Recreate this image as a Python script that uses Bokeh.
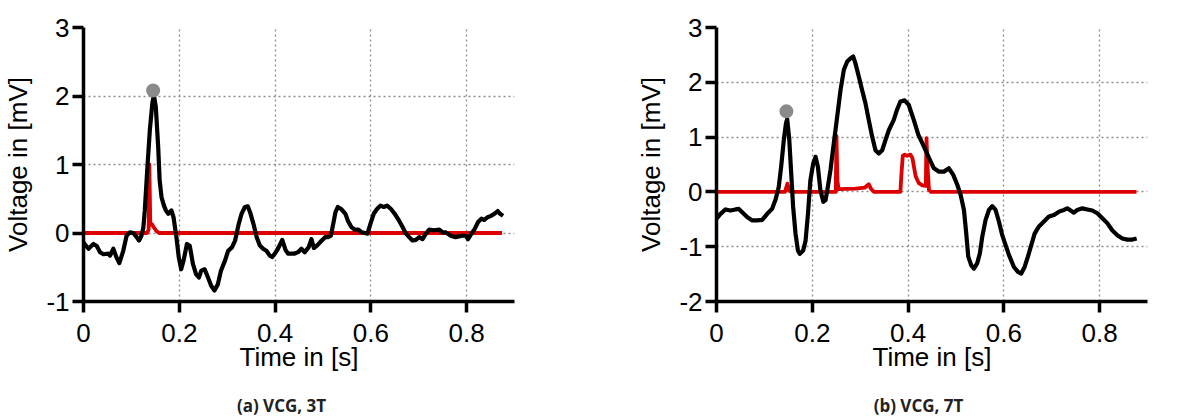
from bokeh.plotting import figure
from bokeh.models import Range1d, FixedTicker
from bokeh.layouts import row, column
from bokeh.core.properties import value
from bokeh.embed import file_html
from bokeh.resources import INLINE

# ---------------- data ----------------
x_ticks = [0, 0.2, 0.4, 0.6, 0.8]
y_ticks_3t = [-1, 0, 1, 2, 3]
y_ticks_7t = [-2, -1, 0, 1, 2, 3]
x_label = "Time in [s]"
y_label = "Voltage in [mV]"
captions = ["(a) VCG, 3T", "(b) VCG, 7T"]

# (time s, voltage mV)
vcg_3t = [(0, -0.14), (.0104, -0.23), (.0208, -0.16), (.0277, -0.19), (.0346, -0.28), (.0416, -0.31),
          (.052, -0.30), (.0554, -0.33), (.0623, -0.23), (.069, -0.36), (.0748, -0.44), (.083, -0.26),
          (.090, -0.04), (.097, 0.01), (.104, 0.0), (.111, -0.06), (.116, -0.11), (.121, -0.04),
          (.125, 0.08), (.128, 0.33), (.133, 0.91), (.1385, 1.50), (.144, 1.91), (.147, 2.01),
          (.151, 1.84), (.156, 1.25), (.159, 0.77), (.163, 0.52), (.168, 0.40), (.172, 0.33),
          (.177, 0.28), (.1835, 0.33), (.188, 0.23), (.194, -0.06), (.199, -0.36), (.204, -0.53),
          (.209, -0.40), (.216, -0.16), (.222, -0.19), (.2285, -0.45), (.235, -0.60), (.241, -0.65),
          (.246, -0.55), (.253, -0.53), (.26, -0.65), (.2666, -0.77), (.2735, -0.84), (.2805, -0.75),
          (.287, -0.55), (.2957, -0.40), (.302, -0.26), (.310, -0.21), (.3166, -0.11), (.324, 0.13),
          (.330, 0.28), (.337, 0.38), (.343, 0.39), (.348, 0.30), (.355, 0.13), (.3615, -0.06),
          (.368, -0.18), (.375, -0.23), (.382, -0.26), (.389, -0.33), (.394, -0.35), (.3996, -0.30),
          (.406, -0.23), (.415, -0.10), (.422, -0.25), (.427, -0.30), (.434, -0.30), (.441, -0.30),
          (.448, -0.28), (.455, -0.23), (.462, -0.28), (.470, -0.21), (.476, -0.09), (.481, -0.22),
          (.488, -0.18), (.496, -0.12), (.505, -0.06), (.511, -0.06), (.5165, -0.04), (.5214, 0.13),
          (.526, 0.30), (.531, 0.38), (.538, 0.35), (.547, 0.28), (.552, 0.18), (.559, 0.09),
          (.566, 0.05), (.574, 0.05), (.5813, 0.01), (.588, 0.0), (.593, -0.01), (.599, 0.13),
          (.606, 0.28), (.613, 0.35), (.620, 0.40), (.627, 0.38), (.634, 0.40), (.642, 0.35),
          (.650, 0.28), (.659, 0.18), (.666, 0.09), (.6734, -0.01), (.680, -0.06), (.687, -0.11),
          (.694, -0.10), (.701, -0.06), (.708, -0.09), (.715, -0.01), (.722, 0.05), (.732, 0.04),
          (.743, 0.05), (.750, 0.01), (.756, 0.01), (.767, -0.04), (.777, -0.06), (.784, -0.05),
          (.791, -0.04), (.798, -0.04), (.803, -0.09), (.810, -0.01), (.817, 0.06), (.824, 0.16),
          (.831, 0.21), (.837, 0.19), (.844, 0.23), (.851, 0.25), (.858, 0.28), (.865, 0.32),
          (.870, 0.28), (.876, 0.25)]

detect_3t = [(0, 0.0), (.133, 0.0), (.136, 0.05), (.1375, 1.0), (.1395, 0.12), (.143, 0.13),
             (.147, 0.08), (.152, 0.03), (.158, 0.0), (.874, 0.0)]

peak_3t = [(0.1454, 2.08)]

vcg_7t = [(0, -0.49), (.0084, -0.40), (.0188, -0.32), (.029, -0.34), (.0397, -0.32), (.0466, -0.31),
          (.0536, -0.37), (.064, -0.46), (.0745, -0.52), (.085, -0.52), (.0954, -0.51), (.106, -0.40),
          (.116, -0.31), (.123, -0.15), (.130, 0.09), (.135, 0.46), (.1406, 0.95), (.145, 1.25),
          (.1476, 1.33), (.152, 0.95), (.156, 0.34), (.160, -0.27), (.165, -0.76), (.170, -1.07),
          (.174, -1.13), (.181, -1.07), (.186, -0.89), (.191, -0.40), (.196, 0.21), (.202, 0.52),
          (.2068, 0.64), (.2117, 0.46), (.217, 0.03), (.223, -0.18), (.2277, -0.15), (.2325, 0.09),
          (.238, 0.40), (.245, 0.89), (.252, 1.37), (.259, 1.86), (.266, 2.23), (.273, 2.38),
          (.280, 2.44), (.2855, 2.47), (.290, 2.35), (.297, 2.11), (.304, 1.86), (.311, 1.62),
          (.318, 1.31), (.325, 1.01), (.332, 0.76), (.339, 0.70), (.346, 0.76), (.353, 0.95),
          (.360, 1.13), (.370, 1.31), (.377, 1.50), (.384, 1.65), (.3927, 1.67), (.4013, 1.59),
          (.4118, 1.32), (.4215, 1.04), (.433, 0.83), (.4436, 0.62), (.454, 0.43), (.4645, 0.37),
          (.4749, 0.37), (.4853, 0.43), (.4944, 0.31), (.5028, 0.13), (.5097, -0.05), (.5167, -0.33),
          (.5215, -0.76), (.5257, -1.18), (.532, -1.34), (.5376, -1.40), (.5445, -1.30), (.550, -1.12),
          (.5549, -0.82), (.5619, -0.51), (.5689, -0.33), (.5758, -0.26), (.5828, -0.33), (.5897, -0.54),
          (.5967, -0.79), (.6037, -0.97), (.6106, -1.15), (.6211, -1.37), (.6295, -1.46), (.6364, -1.49),
          (.6434, -1.37), (.6503, -1.18), (.6573, -0.97), (.6643, -0.76), (.6733, -0.63), (.6838, -0.54),
          (.6942, -0.45), (.7047, -0.42), (.7151, -0.36), (.7255, -0.33), (.7325, -0.30), (.7395, -0.34),
          (.7464, -0.38), (.7534, -0.33), (.764, -0.30), (.7743, -0.32), (.7848, -0.34), (.7952, -0.39),
          (.8057, -0.48), (.816, -0.57), (.8263, -0.70), (.837, -0.79), (.8475, -0.85), (.858, -0.87),
          (.8685, -0.87), (.8774, -0.85)]

detect_7t = [(0, 0.0), (.143, 0.0), (.148, 0.15), (.152, 0.02), (.156, 0.0), (.249, 0.0),
             (.2505, 1.02), (.2525, 0.2), (.255, 0.05), (.29, 0.06), (.31, 0.08), (.318, 0.14),
             (.323, 0.05), (.329, 0.0), (.384, 0.0), (.386, 0.3), (.389, 0.66), (.393, 0.68),
             (.398, 0.66), (.405, 0.68), (.409, 0.62), (.416, 0.28), (.4225, 0.16), (.43, 0.12),
             (.437, 0.11), (.4385, 0.98), (.4405, 0.5), (.4436, 0.04), (.448, 0.0), (.877, 0.0)]

peak_7t = [(0.146, 1.47)]

FONT = "Liberation Sans"
FIG_W, FIG_H, CAP_H = 600, 385, 34


def make_panel(curve, detect, peak, yticks, ymin, frame_w, left):
    right = FIG_W - left - frame_w
    p = figure(width=FIG_W, height=FIG_H, output_backend="svg",
               toolbar_location=None, x_range=Range1d(0, 0.9), y_range=Range1d(ymin, 3),
               min_border_left=left, min_border_right=right, min_border_top=27,
               min_border_bottom=FIG_H - 27 - 274)
    p.outline_line_color = None
    p.background_fill_color = "white"
    p.border_fill_color = "white"

    for ax, ticks in ((p.xaxis[0], x_ticks), (p.yaxis[0], yticks)):
        ax.ticker = FixedTicker(ticks=ticks)
        ax.axis_line_width = 3.5
        ax.axis_line_color = "black"
        ax.major_tick_line_width = 3.5
        ax.major_tick_line_color = "black"
        ax.major_tick_out = 11
        ax.major_tick_in = 0
        ax.minor_tick_line_color = None
        ax.major_label_text_font = FONT
        ax.major_label_text_font_size = "26px"
        ax.major_label_text_color = "black"
        ax.axis_label_text_font = FONT
        ax.axis_label_text_font_size = "26px"
        ax.axis_label_text_font_style = "normal"
        ax.axis_label_text_color = "black"
    p.xaxis[0].major_label_overrides = {t: ("0" if t == 0 else f"{t:g}") for t in x_ticks}
    p.yaxis[0].major_label_overrides = {t: str(t) for t in yticks}
    p.xaxis[0].axis_label = x_label
    p.yaxis[0].axis_label = y_label
    p.xaxis[0].major_label_standoff = 11
    p.xaxis[0].axis_label_standoff = -3
    p.yaxis[0].major_label_standoff = 3
    p.yaxis[0].axis_label_standoff = 10

    for g in (p.xgrid[0], p.ygrid[0]):
        g.grid_line_color = "#8c8c8c"
        g.grid_line_dash = "2 3"
        g.grid_line_width = 1.3
    p.xgrid[0].ticker = FixedTicker(ticks=x_ticks)
    p.ygrid[0].ticker = FixedTicker(ticks=yticks)

    ct, cv = zip(*curve)
    dt, dv = zip(*detect)
    pt, pv = zip(*peak)
    p.line(list(dt), list(dv), line_color="#dd0000", line_width=3.8, line_join="round")
    p.line(list(ct), list(cv), line_color="black", line_width=4.2, line_join="round")
    p.scatter(list(pt), list(pv), size=14, fill_color="#8a8a8a", line_color=None)
    return p


p1 = make_panel(vcg_3t, detect_3t, peak_3t, y_ticks_3t, -1, 433, 81)
p2 = make_panel(vcg_7t, detect_7t, peak_7t, y_ticks_7t, -2, 431, 116)

# caption strip under both panels (pixel coordinates, y measured from the strip top)
cap = figure(width=2 * FIG_W, height=CAP_H, output_backend="svg", toolbar_location=None,
             x_range=Range1d(0, 2 * FIG_W), y_range=Range1d(CAP_H, 0),
             x_axis_type=None, y_axis_type=None, min_border=0)
cap.outline_line_color = None
cap.xgrid.visible = False
cap.ygrid.visible = False
cap.text(x=[281, 918], y=[20, 20], text=captions, text_font=value("Open Sans"),
         text_font_size="17px", text_font_style="bold", text_color="#222222",
         text_align="center", text_baseline="middle")

layout = column(row(p1, p2), cap)
open("out.html", "w").write(file_html(layout, INLINE))
